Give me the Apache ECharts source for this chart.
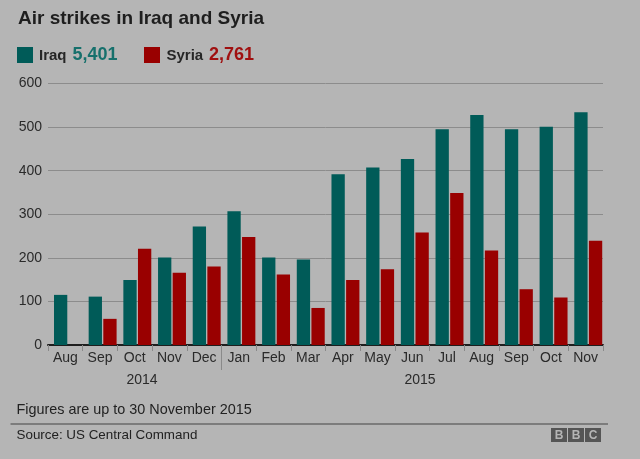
<!DOCTYPE html>
<html><head><meta charset="utf-8">
<script src="https://cdn.jsdelivr.net/npm/echarts@6/dist/echarts.min.js"></script>
<style>html,body{margin:0;padding:0;background:#b5b5b5;}#c{width:640px;height:459px;}</style>
</head><body><div id="c"></div>
<script>
const months = ['Aug','Sep','Oct','Nov','Dec','Jan','Feb','Mar','Apr','May','Jun','Jul','Aug','Sep','Oct','Nov'];
const iraq = [115,111,149,201,272,307,201,196,392,407,427,495,528,495,501,534];
const syria = [null,60,221,166,180,248,162,85,149,174,258,349,217,128,109,239];
const yTicks = [0,100,200,300,400,500,600];
const years = ['2014','2015'];
const yearStartIndex = 5; // Jan 2015

const FONT = 'Liberation Sans, Arial, sans-serif';
const TEAL = '#005b58', RED = '#990000';
const chart = echarts.init(document.getElementById('c'), null, {renderer:'canvas'});
const graphics = [
    {type:'text', left:18, top:9, style:{text:'Air strikes in Iraq and Syria', font:'bold 19px '+FONT, fill:'#1e1e1e'}},
    {type:'rect', shape:{x:17, y:47, width:16, height:16}, style:{fill:TEAL}},
    {type:'text', x:39, y:56, style:{text:'Iraq', font:'bold 15px '+FONT, fill:'#262626', verticalAlign:'middle'}},
    {type:'text', x:72.5, y:55, style:{text:'5,401', font:'bold 18px '+FONT, fill:'#16706c', verticalAlign:'middle'}},
    {type:'rect', shape:{x:144, y:47, width:16, height:16}, style:{fill:RED}},
    {type:'text', x:166.5, y:56, style:{text:'Syria', font:'bold 15px '+FONT, fill:'#262626', verticalAlign:'middle'}},
    {type:'text', x:209, y:55, style:{text:'2,761', font:'bold 18px '+FONT, fill:'#a01010', verticalAlign:'middle'}},
    {type:'text', x:142, y:380.5, style:{text:years[0], font:'14px '+FONT, fill:'#2a2a2a', align:'center', verticalAlign:'middle'}},
    {type:'text', x:420, y:380.5, style:{text:years[1], font:'14px '+FONT, fill:'#2a2a2a', align:'center', verticalAlign:'middle'}},
    {type:'text', x:16.5, y:410, style:{text:'Figures are up to 30 November 2015', font:'14.4px '+FONT, fill:'#222', verticalAlign:'middle'}},
    {type:'line', shape:{x1:10.5, y1:424, x2:608, y2:424}, style:{stroke:'#6a6a6a', lineWidth:1.5}},
    {type:'text', x:16.5, y:435, style:{text:'Source: US Central Command', font:'13.4px '+FONT, fill:'#222', verticalAlign:'middle'}},
    {type:'group', x:551, y:428, children:[
      {type:'rect', shape:{x:0, y:0, width:16, height:14}, style:{fill:'#555'}},
      {type:'rect', shape:{x:17, y:0, width:16, height:14}, style:{fill:'#555'}},
      {type:'rect', shape:{x:34, y:0, width:16, height:14}, style:{fill:'#555'}},
      {type:'text', x:8, y:7.5, style:{text:'B', font:'bold 12px '+FONT, fill:'#b5b5b5', align:'center', verticalAlign:'middle'}},
      {type:'text', x:25, y:7.5, style:{text:'B', font:'bold 12px '+FONT, fill:'#b5b5b5', align:'center', verticalAlign:'middle'}},
      {type:'text', x:42, y:7.5, style:{text:'C', font:'bold 12px '+FONT, fill:'#b5b5b5', align:'center', verticalAlign:'middle'}}
    ]}
];
chart.setOption({
  backgroundColor:'#b5b5b5',
  animation:false,
  textStyle:{fontFamily:FONT},
  grid:[
    {left:48, right:37, top:83.5, bottom:114},
    {left:50.6, right:34.4, top:83.5, bottom:114}
  ],
  xAxis:[
    {type:'category', gridIndex:0, data:months, boundaryGap:true,
     axisLine:{show:true, lineStyle:{color:'#1e1e1e', width:2}},
     axisTick:{show:true, length:6, lineStyle:{color:'#8a8a8a'}},
     axisLabel:{color:'#2a2a2a', fontSize:14, margin:6, interval:0, fontFamily:FONT}},
    {type:'category', gridIndex:1, data:months, show:false}
  ],
  yAxis:[
    {type:'value', gridIndex:0, min:yTicks[0], max:yTicks[yTicks.length-1], interval:100,
     axisLine:{show:false}, axisTick:{show:false},
     axisLabel:{color:'#2a2a2a', fontSize:14, margin:6, fontFamily:FONT},
     splitLine:{lineStyle:{color:'#8c8c8c', width:1}}},
    {type:'value', gridIndex:1, min:yTicks[0], max:yTicks[yTicks.length-1], show:false, splitLine:{show:false}}
  ],
  series:[
    {name:'Iraq', type:'bar', xAxisIndex:1, yAxisIndex:1, data:iraq, barWidth:13.3, barGap:'10%',
     itemStyle:{color:TEAL}},
    {name:'Syria', type:'bar', xAxisIndex:1, yAxisIndex:1, data:syria, barWidth:13.3, barGap:'10%',
     itemStyle:{color:RED}}
  ],
  graphic:graphics
});
// year separator tick at the boundary between Dec 2014 and Jan 2015
const xa = chart.convertToPixel({xAxisIndex:0}, yearStartIndex - 1);
const xb = chart.convertToPixel({xAxisIndex:0}, yearStartIndex);
const y0 = chart.convertToPixel({yAxisIndex:0}, 0);
const xs = Math.round((xa + xb) / 2) + 0.5;
chart.setOption({graphic: graphics.concat([
  {type:'line', shape:{x1:xs, y1:y0, x2:xs, y2:y0 + 25}, style:{stroke:'#8a8a8a', lineWidth:1}}
])});
</script></body></html>
